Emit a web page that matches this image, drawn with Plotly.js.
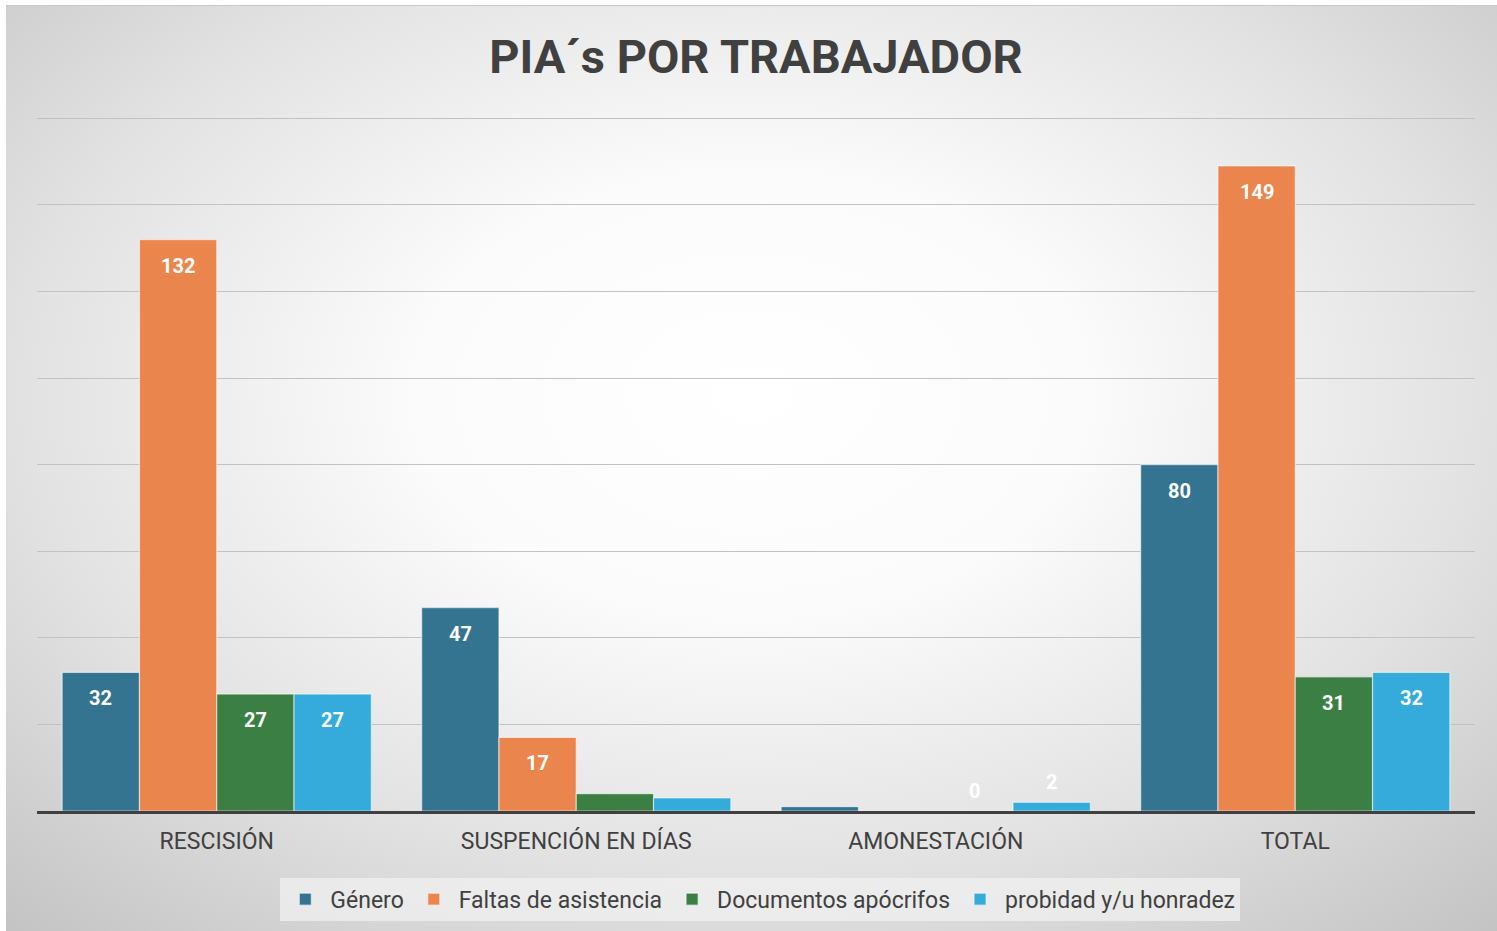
<!DOCTYPE html>
<html>
<head>
<meta charset="utf-8">
<script src="https://cdn.plot.ly/plotly-3.0.1.min.js"></script>
<style>
  html, body { margin: 0; padding: 0; background: #ffffff; width: 1497px; height: 931px; overflow: hidden; }
  #frame {
    position: absolute; left: 6px; top: 5px; width: 1491px; height: 926px;
    background: radial-gradient(ellipse 75% 80% at 50% 42%, #ffffff 0%, #fbfbfb 30%, #e2e2e2 65%, #c2c2c2 100%);
    border-top: 1px solid #c8c8c8; box-sizing: border-box;
  }
  #chart { position: absolute; left: 0; top: 0; width: 1491px; height: 926px; }
</style>
</head>
<body>
<div id="frame"><div id="chart"></div></div>
<script>
const categories = ["RESCISIÓN", "SUSPENCIÓN EN DÍAS", "AMONESTACIÓN", "TOTAL"];
const seriesNames = ["Género", "Faltas de asistencia", "Documentos apócrifos", "probidad y/u honradez"];
const genero = [32, 47, 1, 80];
const faltas = [132, 17, 0, 149];
const documentos = [27, 4, 0, 31];
const probidad = [27, 3, 2, 32];
const colors = ["#347490", "#EB854E", "#3B7F44", "#34ABDB"];

// label placement seen in the reference: "in" = inside end, "out" = above bar, "" = none
const labelPos = [
  ["in", "in", "", "in"],
  ["in", "in", "", "in"],
  ["in", "", "out", "in"],
  ["in", "", "out", "in"]
];

const values = [genero, faltas, documentos, probidad];
const bargap = 0.14;
const nSeries = values.length;
const barW = (1 - bargap) / nSeries;

const traces = values.map((v, i) => ({
  type: "bar",
  name: seriesNames[i],
  x: categories,
  y: v,
  marker: { color: colors[i], line: { color: "rgba(255,255,255,0.55)", width: 1.2 } },
  hoverinfo: "skip"
}));

const labelFont = { family: "Roboto, Arial, sans-serif", size: 20, color: "#ffffff", weight: "bold" };
const annotations = [];
values.forEach((v, i) => {
  v.forEach((val, j) => {
    const p = labelPos[i][j];
    if (!p) return;
    annotations.push({
      xref: "x", yref: "y",
      x: j + (i - (nSeries - 1) / 2) * barW,
      y: val,
      text: "<b>" + val + "</b>",
      showarrow: false,
      font: labelFont,
      xanchor: "center", yanchor: "middle",
      yshift: p === "in" ? -26 : 20
    });
  });
});

const layout = {
  width: 1491, height: 926,
  paper_bgcolor: "rgba(0,0,0,0)",
  plot_bgcolor: "rgba(0,0,0,0)",
  margin: { l: 31, r: 22, t: 108, b: 120 },
  title: {
    text: "<b>PIA´s POR TRABAJADOR</b>",
    font: { family: "Roboto, Arial, sans-serif", size: 47, color: "#404040" },
    x: 0.503, xanchor: "center", y: 0.945, yanchor: "middle"
  },
  barmode: "group",
  bargap: bargap,
  bargroupgap: 0,
  xaxis: {
    type: "category",
    showgrid: false,
    showline: true, linecolor: "#404040", linewidth: 3,
    ticks: "", ticklen: 0,
    ticklabelstandoff: 7,
    tickfont: { family: "Roboto, Arial, sans-serif", size: 23, color: "#404040" },
    fixedrange: true
  },
  yaxis: {
    range: [0, 161],
    tickvals: [0, 20, 40, 60, 80, 100, 120, 140, 160],
    showticklabels: false,
    showgrid: true, gridcolor: "#c2c2c2", gridwidth: 1,
    zeroline: false, showline: false,
    fixedrange: true
  },
  annotations: annotations,
  showlegend: true,
  legend: {
    orientation: "h",
    x: 0.503, xanchor: "center",
    y: -0.125, yanchor: "middle",
    bgcolor: "rgba(240,240,240,0.75)",
    borderwidth: 0,
    font: { family: "Roboto, Arial, sans-serif", size: 23, color: "#404040" },
    itemwidth: 40,
    tracegroupgap: 0
  }
};

Plotly.newPlot("chart", traces, layout, { displayModeBar: false, staticPlot: true });
</script>
</body>
</html>
